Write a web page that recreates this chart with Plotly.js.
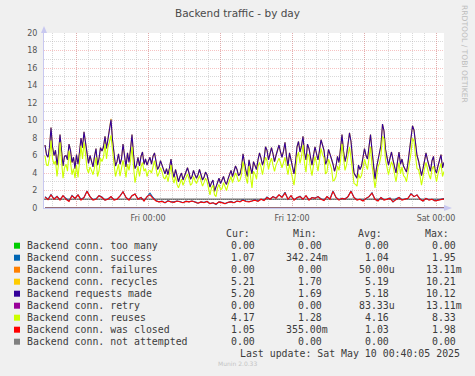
<!DOCTYPE html>
<html>
<head>
<meta charset="utf-8">
<script src="https://cdn.plot.ly/plotly-3.0.1.min.js"></script>
<style>
  html, body { margin: 0; padding: 0; background: #F0F0F0; }
  #chart { width: 475px; height: 376px; }
</style>
</head>
<body>
<div id="chart"></div>
<script>
// ---------- DATA ----------
// first sample Thu 2025-05-08 15:25, last sample Sat 2025-05-10 00:40
const sampleStart = '2025-05-08 15:25:00';
const fineStepSeconds = 450;    // requests / recycles / reuses
const coarseStepSeconds = 900;  // success / was closed

const requestsMade = [
  7.2, 6.1, 5.8, 6.9, 9.2, 7.0, 6.0, 6.6, 4.9, 6.2, 8.4, 6.3, 4.8, 5.9, 6.0, 5.5, 7.3, 6.6, 5.2, 5.8, 4.5, 6.1, 5.0, 6.4, 8.0, 6.9, 8.7, 7.5, 6.4, 5.1, 6.0, 5.4, 4.7, 5.9, 6.8, 4.9, 5.6, 6.9, 6.5, 7.0, 8.2, 6.8, 8.0, 9.0, 10.1, 7.8, 6.2, 4.8, 5.3, 6.2, 5.0, 5.6, 7.3, 5.9, 4.7, 6.3, 5.2, 6.7, 8.4, 6.1, 4.5, 4.9, 5.8, 4.8, 5.9, 6.4, 5.0,
  5.6, 4.9, 5.4, 5.8, 5.0, 5.9, 6.3, 5.3, 4.4, 4.7, 5.4, 4.9, 4.3, 3.9, 4.5, 3.8, 4.6, 5.6, 4.2, 3.5, 4.4, 3.5, 3.0, 3.6, 4.0, 3.2, 3.7, 4.2, 4.6, 4.0, 3.3, 3.6, 4.3, 3.8, 3.4, 3.8, 4.4, 3.8, 3.2, 3.5, 4.1, 3.8, 3.1, 2.4, 2.9, 3.2, 1.9, 2.5, 3.0, 3.4, 2.8, 3.3, 3.6, 3.0, 2.7, 3.3, 3.8, 4.3, 3.6, 4.2, 4.8, 4.4, 3.7, 3.9, 4.6, 6.2, 5.0, 4.2,
  3.6, 5.5, 4.6, 3.9, 5.3, 4.8, 4.4, 5.5, 6.3, 5.7, 4.9, 5.5, 7.0, 6.6, 5.5, 6.2, 6.9, 6.2, 5.3, 6.0, 6.6, 7.2, 6.4, 5.8, 6.5, 7.5, 5.9, 4.8, 6.3, 5.6, 4.7, 3.9, 5.2, 7.0, 7.6, 6.4, 7.1, 8.2, 6.3, 5.5, 7.3, 6.8, 5.8, 4.9, 6.0, 7.0, 6.2, 5.5, 6.6, 7.8, 7.2, 6.6, 5.0, 5.4, 6.7, 6.0, 5.6, 5.0, 4.2, 4.8, 5.9, 5.2, 6.6, 8.4, 6.5, 5.3, 6.0, 7.2,
  8.6, 7.6, 5.4, 4.0, 3.7, 3.4, 4.9, 4.4, 4.8, 5.6, 6.8, 6.0, 5.6, 7.0, 8.4, 6.6, 4.5, 3.3, 4.6, 5.5, 6.3, 7.2, 9.6, 8.8, 6.7, 5.6, 4.9, 5.7, 6.4, 5.5, 4.8, 4.0, 5.3, 6.4, 5.0, 5.6, 4.8, 4.5, 4.1, 5.2, 6.6, 7.9, 9.4, 8.9, 7.2, 6.0, 5.4, 4.7, 3.7, 4.5, 5.5, 6.3, 5.5, 4.7, 4.2, 5.4, 5.9, 4.4, 4.0, 4.8, 5.5, 6.1, 4.6, 5.2
];
const connRecycles = [
  7.2, 6.1, 5.8, 6.9, 9.2, 7.0, 6.0, 6.6, 4.9, 6.2, 8.4, 6.3, 4.8, 5.9, 6.0, 5.5, 7.3, 6.6, 5.2, 5.8, 4.5, 6.1, 5.0, 6.4, 8.0, 6.9, 8.7, 7.5, 6.4, 5.1, 6.0, 5.4, 4.7, 5.9, 6.8, 4.9, 5.6, 6.9, 6.5, 7.0, 8.2, 6.8, 8.0, 9.0, 10.2, 7.8, 6.2, 4.8, 5.3, 6.2, 5.0, 5.6, 7.3, 5.9, 4.7, 6.3, 5.2, 6.7, 8.4, 6.1, 4.5, 4.9, 5.8, 4.8, 5.9, 6.4, 5.0,
  5.6, 4.9, 5.4, 5.8, 5.0, 5.9, 6.3, 5.3, 4.4, 4.7, 5.4, 4.9, 4.3, 3.9, 4.5, 3.8, 4.6, 5.6, 4.2, 3.5, 4.4, 3.5, 3.0, 3.6, 4.0, 3.2, 3.7, 4.2, 4.6, 4.0, 3.3, 3.6, 4.3, 3.8, 3.4, 3.8, 4.4, 3.8, 3.2, 3.5, 4.1, 3.8, 3.1, 2.4, 2.9, 3.2, 1.9, 2.5, 3.0, 3.4, 2.8, 3.3, 3.6, 3.0, 2.7, 3.3, 3.8, 4.3, 3.6, 4.2, 4.8, 4.4, 3.7, 3.9, 4.6, 6.2, 5.0, 4.2,
  3.6, 5.5, 4.6, 3.9, 5.3, 4.8, 4.4, 5.5, 6.3, 5.7, 4.9, 5.5, 7.0, 6.6, 5.5, 6.2, 6.9, 6.2, 5.3, 6.0, 6.6, 7.2, 6.4, 5.8, 6.5, 7.5, 5.9, 4.8, 6.3, 5.6, 4.7, 3.9, 5.2, 7.0, 7.6, 6.4, 7.1, 8.2, 6.3, 5.5, 7.3, 6.8, 5.8, 4.9, 6.0, 7.0, 6.2, 5.5, 6.6, 7.8, 7.2, 6.6, 5.0, 5.4, 6.7, 6.0, 5.6, 5.0, 4.2, 4.8, 5.9, 5.2, 6.6, 8.4, 6.5, 5.3, 6.0, 7.2,
  8.6, 7.6, 5.4, 4.0, 3.7, 3.4, 4.9, 4.4, 4.8, 5.6, 6.8, 6.0, 5.6, 7.0, 8.4, 6.6, 4.5, 3.3, 4.6, 5.5, 6.3, 7.2, 9.6, 8.8, 6.7, 5.6, 4.9, 5.7, 6.4, 5.5, 4.8, 4.0, 5.3, 6.4, 5.0, 5.6, 4.8, 4.5, 4.1, 5.2, 6.6, 7.9, 9.4, 8.9, 7.2, 6.0, 5.4, 4.7, 3.7, 4.5, 5.5, 6.3, 5.5, 4.7, 4.2, 5.4, 5.9, 4.4, 4.0, 4.8, 5.5, 6.1, 4.6, 5.21
];
const connReuses = [
  5.95, 4.9, 4.85, 5.7, 7.7, 5.6, 5.0, 5.4, 3.6, 5.0, 7.5, 5.1, 3.4, 4.6, 5.0, 4.2, 6.55, 5.3, 3.8, 4.5, 3.4, 4.9, 3.5, 5.2, 7.1, 5.6, 7.5, 6.2, 4.5, 4.0, 4.7, 4.3, 3.8, 4.6, 5.8, 3.6, 4.2, 5.7, 5.3, 5.8, 7.3, 5.6, 7.0, 7.6, 8.3, 6.6, 5.3, 3.6, 4.3, 5.0, 3.65, 4.4, 5.45, 4.6, 3.5, 5.0, 4.3, 5.4, 7.0, 4.8, 2.9, 3.8, 4.8, 3.6, 4.7, 5.2, 4.2,
  4.5, 3.6, 4.2, 4.3, 4.0, 4.8, 5.4, 4.5, 3.6, 4.0, 4.6, 4.15, 3.5, 3.3, 3.8, 3.0, 3.9, 4.9, 3.4, 2.85, 3.6, 2.7, 2.3, 2.9, 3.3, 2.6, 3.0, 3.45, 3.9, 3.3, 2.6, 2.8, 3.6, 3.15, 2.8, 3.25, 3.7, 3.1, 2.5, 2.9, 3.4, 3.05, 2.4, 1.5, 2.3, 2.6, 1.5, 1.3, 2.3, 2.7, 2.1, 2.2, 2.9, 2.5, 2.0, 2.65, 3.1, 3.6, 2.9, 3.6, 4.0, 3.6, 3.0, 3.2, 3.8, 5.3, 4.2, 3.45,
  2.8, 4.8, 3.6, 2.3, 4.2, 3.9, 3.3, 4.75, 5.2, 4.7, 3.8, 4.65, 5.8, 5.4, 4.4, 5.2, 5.7, 4.9, 4.2, 4.9, 5.3, 5.7, 5.2, 4.6, 5.2, 5.8, 4.7, 3.8, 5.0, 4.2, 3.6, 2.6, 4.0, 5.8, 6.4, 5.1, 5.9, 7.2, 5.1, 4.1, 6.2, 5.9, 4.6, 3.7, 4.9, 5.9, 5.1, 4.2, 5.5, 6.8, 6.1, 5.75, 3.9, 4.1, 5.6, 5.0, 4.5, 3.1, 3.2, 3.6, 4.8, 4.3, 5.4, 7.3, 5.4, 4.3, 4.9, 5.9,
  7.0, 5.7, 4.3, 2.8, 2.7, 2.5, 3.9, 3.4, 3.7, 4.8, 5.6, 4.9, 4.4, 5.7, 7.0, 4.9, 3.4, 2.3, 3.4, 4.7, 5.1, 6.0, 8.2, 7.9, 5.5, 4.6, 3.8, 4.6, 5.3, 4.8, 3.6, 3.0, 4.1, 5.2, 3.9, 4.7, 3.7, 3.5, 3.0, 4.1, 5.3, 6.3, 8.0, 7.6, 6.0, 4.5, 4.4, 3.7, 2.6, 3.7, 4.5, 5.2, 4.4, 3.8, 3.3, 4.4, 4.8, 3.6, 3.0, 3.9, 4.5, 5.1, 3.6, 4.17
];
const connWasClosed = [
  1.25, 0.95, 1.5, 1.0, 1.3, 0.9, 1.4, 1.0, 0.75, 1.4, 1.1, 1.5, 0.9, 1.2, 1.9, 1.3, 0.9, 1.0, 1.4, 1.2, 0.9, 1.0, 1.3, 0.9, 1.0, 1.35, 1.85, 1.2, 0.9, 1.4, 1.6, 1.0, 1.2, 0.8,
  1.3, 1.5, 1.1, 0.8, 0.7, 0.75, 0.6, 0.8, 0.7, 0.65, 0.8, 0.7, 0.6, 0.75, 0.7, 0.8, 0.65, 0.55, 0.7, 0.6, 0.75, 0.5, 0.6, 0.45, 0.7, 0.6, 0.5, 0.65, 0.7, 0.6, 0.8, 0.7, 0.9, 0.75,
  0.7, 0.8, 0.9, 0.75, 1.0, 0.85, 1.2, 1.0, 1.3, 1.1, 1.5, 1.2, 1.7, 1.0, 1.4, 0.9, 1.2, 1.3, 1.0, 1.4, 0.9, 1.2, 1.1, 1.3, 1.0, 0.85, 1.3, 1.0, 1.9, 1.2, 0.9, 1.1, 1.0, 1.3,
  1.9, 1.2, 0.9, 1.0, 0.8, 1.1, 1.3, 1.7, 1.0, 0.8, 1.2, 0.9, 1.0, 1.1, 0.7, 1.0, 1.2, 0.9, 1.0, 1.1, 1.6, 1.3, 1.5, 1.0, 0.8, 1.1, 0.9, 1.0, 0.8, 0.9, 1.0, 1.05
];
const connSuccess = [
  1.3, 1.0, 1.55, 1.05, 1.35, 0.95, 1.4, 1.1, 0.8, 1.45, 1.1, 1.5, 1.0, 1.2, 1.95, 1.3, 0.95, 1.05, 1.4, 1.25, 0.9, 1.05, 1.3, 0.95, 1.0, 1.4, 1.85, 1.2, 0.95, 1.4, 1.6, 1.05, 1.2, 0.85,
  1.35, 1.7, 1.2, 0.85, 0.7, 0.8, 0.6, 0.85, 0.7, 0.7, 0.8, 0.75, 0.6, 0.8, 0.7, 0.8, 0.7, 0.55, 0.7, 0.65, 0.75, 0.5, 0.6, 0.4, 0.7, 0.65, 0.5, 0.65, 0.75, 0.6, 0.8, 0.75, 0.95, 0.8,
  0.75, 0.8, 0.95, 0.8, 1.0, 0.9, 1.25, 1.0, 1.3, 1.15, 1.5, 1.25, 1.8, 1.0, 1.4, 0.95, 1.2, 1.35, 1.0, 1.4, 0.95, 1.2, 1.15, 1.3, 1.05, 0.9, 1.3, 1.05, 1.95, 1.2, 0.95, 1.1, 1.05, 1.3,
  1.95, 1.2, 0.95, 1.0, 0.85, 1.1, 1.3, 1.75, 1.0, 0.85, 1.2, 0.95, 1.0, 1.15, 0.7, 1.05, 1.2, 0.95, 1.0, 1.1, 1.65, 1.3, 1.5, 1.05, 0.8, 1.1, 0.95, 1.0, 0.85, 0.9, 1.0, 1.07
];
// flat series (constant zero over the whole period)
const flatTimes = ['2025-05-08 15:25', '2025-05-10 00:40'];
const connTooMany = [0, 0];
const connFailures = [0, 0];
const connRetry = [0, 0];
const connNotAttempted = [0, 0];
const referenceLevel = 1;   // the grey horizontal line

// legend table
const legendNames = ['Backend conn. too many', 'Backend conn. success', 'Backend conn. failures',
  'Backend conn. recycles', 'Backend requests made', 'Backend conn. retry', 'Backend conn. reuses',
  'Backend conn. was closed', 'Backend conn. not attempted'];
const legendColors = ['#00CC00', '#0066B3', '#FF8000', '#FFCC00', '#330099', '#990099', '#CCFF00', '#FF0000', '#808080'];
const curVals = ['0.00', '1.07', '0.00', '5.21', '5.20', '0.00', '4.17', '1.05', '0.00'];
const minVals = ['0.00', '342.24m', '0.00', '1.70', '1.69', '0.00', '1.28', '355.00m', '0.00'];
const avgVals = ['0.00', '1.04', '50.00u', '5.19', '5.18', '83.33u', '4.16', '1.03', '0.00'];
const maxVals = ['0.00', '1.95', '13.11m', '10.21', '10.12', '13.11m', '8.33', '1.98', '0.00'];
const columnHeaders = ['Cur:', 'Min:', 'Avg:', 'Max:'];
const lastUpdateText = 'Last update: Sat May 10 00:40:05 2025';
const chartTitle = 'Backend traffic - by day';
const xRange = ['2025-05-08 15:20', '2025-05-10 00:40'];
const xTickVals = ['2025-05-08 18:00', '2025-05-09 00:00', '2025-05-09 06:00', '2025-05-09 12:00', '2025-05-09 18:00', '2025-05-10 00:00'];
const xTickText = ['', 'Fri 00:00', '', 'Fri 12:00', '', 'Sat 00:00'];
const yRange = [0, 20];

// ---------- build ----------
function fmt(d) {
  const p = n => String(n).padStart(2, '0');
  return d.getUTCFullYear() + '-' + p(d.getUTCMonth() + 1) + '-' + p(d.getUTCDate()) + ' ' +
    p(d.getUTCHours()) + ':' + p(d.getUTCMinutes()) + ':' + p(d.getUTCSeconds());
}
function parseT(s) {
  const [a, b] = s.split(' ');
  const [Y, M, D] = a.split('-').map(Number);
  const [h, m, sec] = b.split(':').map(Number);
  return Date.UTC(Y, M - 1, D, h, m, sec || 0);
}
const t0 = parseT(sampleStart);
const timesFor = (arr, step) => arr.map((_, i) => fmt(new Date(t0 + i * step * 1000)));

// hourly minor grid positions
const minorHours = [];
for (let t = parseT('2025-05-08 16:00'); t <= parseT(xRange[1]); t += 3600000) minorHours.push(fmt(new Date(t)));

// plot area in pixels
const L = 44, R = 444, T = 33, B = 208;
const W = 475, H = 376;
const px = x => (x - L) / (R - L);
const py = y => (B - y) / (B - T);

function line(x, y, color, width) {
  return { x: x, y: y, type: 'scatter', mode: 'lines', line: { color: color, width: width || 1 }, hoverinfo: 'skip', showlegend: false };
}
const traces = [
  line(flatTimes, connTooMany, legendColors[0]),
  line(timesFor(connSuccess, coarseStepSeconds), connSuccess, legendColors[1], 1.1),
  line(flatTimes, connFailures, legendColors[2]),
  line(timesFor(connRecycles, fineStepSeconds), connRecycles, legendColors[3], 1.1),
  line(timesFor(requestsMade, fineStepSeconds), requestsMade, legendColors[4], 1.1),
  line(flatTimes, connRetry, legendColors[5]),
  line(timesFor(connReuses, fineStepSeconds), connReuses, legendColors[6], 1.1),
  line(timesFor(connWasClosed, coarseStepSeconds), connWasClosed, legendColors[7], 1.1),
  line(flatTimes, connNotAttempted, legendColors[8])
];

const mono = { family: 'DejaVu Sans Mono', size: 9.9, color: '#3c3c3c' };
const annotations = [];
const shapes = [];
const rowY0 = 245.7, rowStep = 12;
const slotEnds = [261, 328, 394.5, 461.5];
const headerX = [226, 292.7, 358, 425];
columnHeaders.forEach((h, j) => {
  annotations.push({ xref: 'paper', yref: 'paper', x: px(headerX[j] - 2), y: py(rowY0 - rowStep), text: h,
    showarrow: false, xanchor: 'left', yanchor: 'middle', font: mono });
});
legendNames.forEach((name, i) => {
  const yc = rowY0 + i * rowStep;
  shapes.push({ type: 'rect', xref: 'paper', yref: 'paper', x0: px(14), x1: px(20), y0: py(yc + 3), y1: py(yc - 3),
    fillcolor: legendColors[i], line: { width: 0 } });
  annotations.push({ xref: 'paper', yref: 'paper', x: px(24.7), y: py(yc), text: name,
    showarrow: false, xanchor: 'left', yanchor: 'middle', font: mono });
  [curVals, minVals, avgVals, maxVals].forEach((col, j) => {
    let v = col[i];
    if (/[0-9]$/.test(v)) v = v + '\u00a0';
    annotations.push({ xref: 'paper', yref: 'paper', x: px(slotEnds[j] + 2), y: py(yc), text: v,
      showarrow: false, xanchor: 'right', yanchor: 'middle', font: mono });
  });
});
annotations.push({ xref: 'paper', yref: 'paper', x: px(462.5), y: py(rowY0 + 9 * rowStep), text: lastUpdateText,
  showarrow: false, xanchor: 'right', yanchor: 'middle', font: mono });
annotations.push({ xref: 'paper', yref: 'paper', x: px(237), y: py(363.5), text: 'Munin 2.0.33',
  showarrow: false, xanchor: 'center', yanchor: 'middle', font: { family: 'DejaVu Sans', size: 6, color: '#c4c4c4' } });
annotations.push({ xref: 'paper', yref: 'paper', x: px(465), y: py(54), text: 'RRDTOOL / TOBI OETIKER', textangle: 90,
  showarrow: false, xanchor: 'center', yanchor: 'middle', font: { family: 'DejaVu Sans', size: 7.6, color: '#bdbdbd' } });

const axisColor = '#c8c8f0';
shapes.push({ type: 'line', xref: 'paper', yref: 'y', x0: 0, x1: 1, y0: referenceLevel, y1: referenceLevel,
  line: { color: '#6e6e6e', width: 1.3 }, layer: 'below' });
shapes.push({ type: 'path', xref: 'paper', yref: 'paper',
  path: 'M ' + px(41) + ' ' + py(33) + ' L ' + px(44) + ' ' + py(26) + ' L ' + px(47) + ' ' + py(33) + ' Z',
  fillcolor: axisColor, line: { width: 0 } });
shapes.push({ type: 'path', xref: 'paper', yref: 'paper',
  path: 'M ' + px(444) + ' ' + py(205) + ' L ' + px(452) + ' ' + py(208) + ' L ' + px(444) + ' ' + py(211) + ' Z',
  fillcolor: axisColor, line: { width: 0 } });

const tickFont = { family: 'DejaVu Sans', size: 8, color: '#555555' };
const majorGrid = 'rgba(235,120,120,0.45)';
const minorGrid = 'rgba(170,170,170,0.45)';

const layout = {
  width: W, height: H,
  margin: { l: L, r: W - R, t: T, b: H - B, pad: 0 },
  paper_bgcolor: '#F0F0F0',
  plot_bgcolor: '#FFFFFF',
  showlegend: false,
  title: { text: chartTitle, xref: 'container', x: 0.5, xanchor: 'center', yref: 'container', y: 1 - 13 / H, yanchor: 'middle',
    font: { family: 'DejaVu Sans', size: 10.5, color: '#4a4a4a' } },
  xaxis: {
    type: 'date', range: xRange, tickmode: 'array', tickvals: xTickVals, ticktext: xTickText,
    showgrid: true, gridcolor: majorGrid, griddash: '1px,1px', gridwidth: 1,
    minor: { tickmode: 'array', tickvals: minorHours, showgrid: true, gridcolor: minorGrid, griddash: '1px,1px', ticks: '' },
    showline: true, linecolor: axisColor, linewidth: 1, ticks: '', zeroline: false,
    tickfont: tickFont, ticklabelstandoff: 2, fixedrange: true
  },
  yaxis: {
    range: yRange, tickmode: 'linear', tick0: 0, dtick: 2,
    showgrid: true, gridcolor: majorGrid, griddash: '1px,1px', gridwidth: 1,
    minor: { tickmode: 'linear', tick0: 0, dtick: 1, showgrid: true, gridcolor: minorGrid, griddash: '1px,1px', ticks: '' },
    showline: true, linecolor: axisColor, linewidth: 1, ticks: '', zeroline: false,
    tickfont: tickFont, ticklabelstandoff: 4, fixedrange: true
  },
  annotations: annotations,
  shapes: shapes
};

Plotly.newPlot('chart', traces, layout, { staticPlot: true, displayModeBar: false });
</script>
</body>
</html>
